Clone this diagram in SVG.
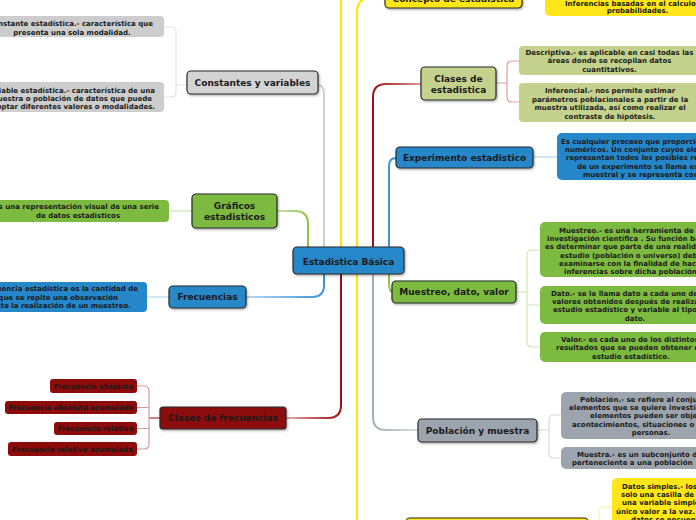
<svg xmlns="http://www.w3.org/2000/svg" width="696" height="520" viewBox="0 0 696 520">
<style>
.n{stroke:#2a2a2a;stroke-width:1.2;filter:url(#sh)}
.t{font-family:"DejaVu Sans",Verdana,sans-serif;font-weight:bold;font-size:9px;fill:#1a1a1a;text-anchor:middle}
.c{font-family:"DejaVu Sans",Verdana,sans-serif;font-weight:bold;font-size:7px;fill:#1a1a1a;text-anchor:middle}
.s{text-anchor:start}
.e{text-anchor:end}
.blue{fill:#2587c9}
.green{fill:#7dba40}
.grey{fill:#d3d3d3}
.cgrey{fill:#cdcdcd}
.olive{fill:#c4d28d}
.red{fill:#8c0b0b}
.yellow{fill:#ffe619}
.slate{fill:#9ca5ad}
.k{fill:none;stroke-width:2;stroke-linecap:round}
.b{fill:none;stroke-width:1.2}
</style>
<defs>
<filter id="sh" x="-10%" y="-10%" width="130%" height="140%"><feDropShadow dx="1" dy="1.2" stdDeviation="0.8" flood-color="#000" flood-opacity="0.35"/></filter>
<linearGradient id="gG" gradientUnits="userSpaceOnUse" x1="308" y1="0" x2="277" y2="0"><stop offset="0" stop-color="#8cc63f"/><stop offset="1" stop-color="#cde6b0"/></linearGradient>
<linearGradient id="gR1" gradientUnits="userSpaceOnUse" x1="373" y1="0" x2="421" y2="0"><stop offset="0" stop-color="#9a1010"/><stop offset="1" stop-color="#dd9a9a"/></linearGradient>
<linearGradient id="gB1" gradientUnits="userSpaceOnUse" x1="324" y1="0" x2="246" y2="0"><stop offset="0" stop-color="#3a96d6"/><stop offset="1" stop-color="#b8d9f0"/></linearGradient>
<linearGradient id="gR2" gradientUnits="userSpaceOnUse" x1="341" y1="0" x2="286" y2="0"><stop offset="0" stop-color="#9a1010"/><stop offset="1" stop-color="#e4abab"/></linearGradient>
<linearGradient id="gS" gradientUnits="userSpaceOnUse" x1="373" y1="0" x2="418" y2="0"><stop offset="0" stop-color="#a6aeb6"/><stop offset="1" stop-color="#d8dde2"/></linearGradient>
</defs>
<rect width="696" height="520" fill="#ffffff"/>

<g id="connectors">
<path class="k" stroke="url(#gG)" d="M308,247 V224 Q308,211 295,211 H277"/>
<path class="k" stroke="#cfcfcf" d="M324,247 V93 Q324,85 317,85"/>
<path class="k" stroke="#ffe500" d="M341,247 V-2"/>
<path class="k" stroke="#ffe500" d="M357,247 V12 Q357,-2 371,-2 H386"/>
<path class="k" stroke="url(#gR1)" d="M373,247 V97 Q373,84 386,84 H421"/>
<path class="k" stroke="#3a96d6" d="M389,247 V166 Q389,158 396,158"/>
<path class="k" stroke="url(#gB1)" d="M324,274 V285 Q324,297 312,297 H246"/>
<path class="k" stroke="url(#gR2)" d="M341,274 V405 Q341,418 328,418 H286"/>
<path class="k" stroke="#ffe500" d="M357,274 V522"/>
<path class="k" stroke="url(#gS)" d="M373,274 V417 Q373,430 386,430 H418"/>
<path class="k" stroke="#8cc63f" d="M389,274 V283 Q389,292 393,292"/>
<path class="b" stroke="#e2e2e2" d="M187,85 H176 M164,27 H171 Q176,27 176,32 V92 Q176,97 171,97 H164"/>
<path class="b" stroke="#cfe6b5" d="M192,211 H169"/>
<path class="b" stroke="#b7d7ee" d="M169,297 H147"/>
<path class="b" stroke="#a83030" stroke-width="1.6" d="M160,418 H149"/>
<path class="b" stroke="#d99a9a" d="M137,386 H144 Q149,386 149,391 V444 Q149,449 144,449 H137 M137,407.5 H149 M137,428.5 H149"/>
<path class="b" stroke="#dfa0a0" d="M496,83 H507 M519,61 H512 Q507,61 507,66 V97 Q507,102 512,102 H519"/>
<path class="b" stroke="#b5d6ee" d="M533,157 H557"/>
<path class="b" stroke="#cfe6b5" d="M516,292 H527 M540,250 H532 Q527,250 527,255 V342 Q527,347 532,347 H540 M527,305 H540"/>
<path class="b" stroke="#d5dae0" d="M537,430 H549 M561,415 H554 Q549,415 549,420 V453 Q549,458 554,458 H561"/>
<path class="b" stroke="#fff0a0" d="M612,507 H604 Q599,507 599,512 V522"/>
</g>

<g id="center">
<rect class="n blue" x="293" y="247" width="111" height="27" rx="4"/>
<text class="t" x="348.5" y="264.5">Estadistica Básica</text>
</g>

<g id="constantes">
<rect class="n grey" x="187" y="71" width="131" height="23" rx="4"/>
<text class="t" x="252.5" y="86">Constantes y variables</text>
</g>
<g id="constante">
<rect class="cgrey" x="-20" y="16" width="184" height="21" rx="4"/>
<text class="c e" x="153" y="26">Constante estadística.- característica que</text>
<text class="c" x="72" y="35">presenta una sola modalidad.</text>
</g>
<g id="variable">
<rect class="cgrey" x="-20" y="82" width="184" height="30" rx="4"/>
<text class="c e" x="155" y="92.5">Variable estadística.- característica de una</text>
<text class="c e" x="152" y="100.8">muestra o población de datos que puede</text>
<text class="c e" x="155" y="109.2">adoptar diferentes valores o modalidades.</text>
</g>

<g id="graficos">
<rect class="n green" x="192" y="194" width="85" height="34" rx="4"/>
<text class="t" x="234.5" y="209.3">Gráficos</text>
<text class="t" x="234.5" y="220.3">estadisticos</text>
</g>
<g id="graficos-def">
<rect class="green" x="-20" y="200" width="189" height="22" rx="4"/>
<text class="c e" x="159" y="208.5">Es una representación visual de una serie</text>
<text class="c" x="78" y="217.5">de datos estadisticos</text>
</g>

<g id="frecuencias">
<rect class="n blue" x="169" y="286" width="77" height="22" rx="4"/>
<text class="t" x="207.5" y="300.3">Frecuencias</text>
</g>
<g id="frecuencias-def">
<rect class="blue" x="-20" y="282" width="167" height="30" rx="4"/>
<text class="c e" x="138" y="290.5">La frecuencia estadística es la cantidad de</text>
<text class="c e" x="118" y="299.5">veces que se repite una observación</text>
<text class="c e" x="131" y="308.3">durante la realización de un muestreo.</text>
</g>

<g id="clases-frecuencias">
<rect class="n red" x="160" y="407" width="126" height="22" rx="3"/>
<text class="t" x="223" y="421.3">Clases de frecuencias</text>
</g>
<g id="f-abs">
<rect class="red" x="50" y="379" width="87" height="14" rx="3"/>
<text class="c" x="93.5" y="388.5">Frecuencia absoluta</text>
</g>
<g id="f-abs-ac">
<rect class="red" x="5" y="401" width="132" height="13" rx="3"/>
<text class="c" x="71" y="410">Frecuencia absoluta acumulada</text>
</g>
<g id="f-rel">
<rect class="red" x="54" y="422" width="83" height="13" rx="3"/>
<text class="c" x="95.5" y="431">Frecuencia relativa</text>
</g>
<g id="f-rel-ac">
<rect class="red" x="8" y="442" width="129" height="14" rx="3"/>
<text class="c" x="72.5" y="451.5">Frecuencia relativa acumulada</text>
</g>

<g id="concepto">
<rect class="n yellow" x="385" y="-20" width="137" height="28" rx="4"/>
<text class="t" x="453.5" y="1.5">Concepto de estadistica</text>
</g>
<g id="inferencias">
<rect class="yellow" x="545" y="-30" width="200" height="46" rx="5"/>
<text class="c s" x="565" y="5.5">Inferencias basadas en el calculo de</text>
<text class="c" x="637.5" y="12.8">probabilidades.</text>
</g>

<g id="clases-estadistica">
<rect class="n olive" x="421" y="67" width="75" height="33" rx="4"/>
<text class="t" x="458.5" y="82.3">Clases de</text>
<text class="t" x="458.5" y="92.8">estadistica</text>
</g>
<g id="descriptiva">
<rect class="olive" x="519" y="46" width="190" height="29" rx="4"/>
<text class="c" x="609.5" y="54.5">Descriptiva.- es aplicable en casi todas las</text>
<text class="c" x="609.5" y="63.3">áreas donde se recopilan datos</text>
<text class="c" x="609.5" y="72">cuantitativos.</text>
</g>
<g id="inferencial">
<rect class="olive" x="519" y="83" width="190" height="39" rx="4"/>
<text class="c" x="610" y="93">Inferencial.- nos permite estimar</text>
<text class="c" x="610" y="101.5">parámetros poblacionales a partir de la</text>
<text class="c" x="610" y="110">muestra utilizada, así como realizar el</text>
<text class="c" x="610" y="118.5">contraste de hipótesis.</text>
</g>

<g id="experimento">
<rect class="n blue" x="396" y="147" width="137" height="21" rx="4"/>
<text class="t" x="464.5" y="160.8">Experimento estadistico</text>
</g>
<g id="experimento-def">
<rect class="blue" x="557" y="133" width="200" height="47" rx="5"/>
<text class="c s" x="561" y="143.5">Es cualquier proceso que proporcione datos</text>
<text class="c s" x="565" y="151.8">numéricos. Un conjunto cuyos elementos</text>
<text class="c s" x="566" y="160.2">representan todos los posibles resultados</text>
<text class="c s" x="577" y="168.5">de un experimento se llama espacio</text>
<text class="c s" x="583" y="176.8">muestral y se representa con S.</text>
</g>

<g id="muestreo-dato-valor">
<rect class="n green" x="392" y="281" width="124" height="22" rx="4"/>
<text class="t" x="454" y="295.3">Muestreo, dato, valor</text>
</g>
<g id="muestreo">
<rect class="green" x="540" y="222" width="200" height="55" rx="5"/>
<text class="c s" x="559" y="232.5">Muestreo.- es una herramienta de la</text>
<text class="c s" x="547" y="240.8">investigación científica . Su función básica</text>
<text class="c s" x="545" y="249.2">es determinar que parte de una realidad en</text>
<text class="c s" x="560" y="257.5">estudio (población o universo) debe</text>
<text class="c s" x="559" y="265.8">examinarse con la finalidad de hacer</text>
<text class="c s" x="564" y="274.2">inferencias sobre dicha población.</text>
</g>
<g id="dato">
<rect class="green" x="540" y="286" width="200" height="38" rx="5"/>
<text class="c s" x="551" y="295.5">Dato.- se le llama dato a cada uno de los</text>
<text class="c s" x="552" y="303.8">valores obtenidos después de realizar un</text>
<text class="c s" x="553" y="312.2">estudio estadístico y variable al tipo de</text>
<text class="c" x="635" y="320.5">dato.</text>
</g>
<g id="valor">
<rect class="green" x="540" y="332" width="200" height="30" rx="5"/>
<text class="c s" x="561" y="341.5">Valor.- es cada uno de los distintos</text>
<text class="c s" x="556" y="350">resultados que se pueden obtener de un</text>
<text class="c s" x="592" y="358.5">estudio estadístico.</text>
</g>

<g id="poblacion-muestra">
<rect class="n slate" x="418" y="419" width="119" height="23" rx="4"/>
<text class="t" x="477.5" y="433.5">Población y muestra</text>
</g>
<g id="poblacion">
<rect class="slate" x="561" y="392" width="200" height="47" rx="5"/>
<text class="c s" x="580" y="401.5">Población.- se refiere al conjunto de</text>
<text class="c s" x="569" y="409.8">elementos que se quiere investigar. Estos</text>
<text class="c s" x="590" y="418.2">elementos pueden ser objetos,</text>
<text class="c s" x="572" y="426.5">acontecimientos, situaciones o grupos de</text>
<text class="c" x="651" y="435">personas.</text>
</g>
<g id="muestra">
<rect class="slate" x="561" y="447" width="200" height="22" rx="5"/>
<text class="c s" x="577" y="456.5">Muestra.- es un subconjunto de datos</text>
<text class="c s" x="572" y="464.8">perteneciente a una población</text>
</g>

<g id="datos-simples">
<rect class="yellow" x="612" y="478" width="150" height="60" rx="5"/>
<text class="c s" x="622" y="488.5">Datos simples.- los datos</text>
<text class="c s" x="621" y="496.8">solo una casilla de la</text>
<text class="c s" x="622" y="505.2">una variable simple que</text>
<text class="c s" x="616" y="513.5">único valor a la vez. Los</text>
<text class="c s" x="631" y="521.8">datos se encuentran</text>
</g>
<g id="tipos-datos">
<rect class="n yellow" x="406" y="518" width="182" height="20" rx="4"/>
</g>
</svg>
